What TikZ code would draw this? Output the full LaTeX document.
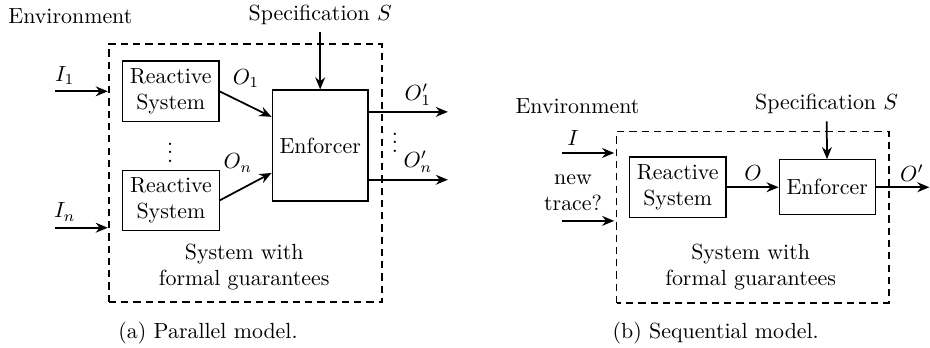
\documentclass[tikz,border=0pt]{standalone}
\usetikzlibrary{arrows.meta,calc}
\begin{document}
\begin{tikzpicture}[
    box/.style={draw,semithick,align=center},
    frame/.style={draw,semithick,dash pattern=on 3.3pt off 2.3pt},
    dots/.style={inner sep=0pt},
    flow/.style={->,thick},
    >={Stealth[length=5.5pt,width=4.5pt]}
  ]
  \useasboundingbox (0,0) rectangle (14.93,5.586);
  % (a) parallel model
  \draw[frame] (1.75,0.74) rectangle (6.13,4.88);
  \node (env1) at (1.13,5.33) {Environment};
  \node (spec1) at (5.14,5.35) {Specification $S$};
  \node[box] (rs1) at (2.74,4.12) {Reactive\\System};
  \node[box] (rsn) at (2.745,2.37) {Reactive\\System};
  \node[dots] (dots1) at (2.73,3.24) {$\vdots$};
  \node[box,minimum height=1.78cm] (enf1) at (5.14,3.25) {Enforcer};
  \node[dots] (dots2) at (6.34,3.40) {$\vdots$};
  \node[align=center] (sys1) at (3.92,1.30) {System with\\formal guarantees};
  \node (cap1) at (3.34,0.24) {(a) Parallel model.};
  \coordinate (in1) at (0.88,4.12);
  \coordinate (in1e) at (1.73,4.12);
  \coordinate (inn) at (0.88,1.93);
  \coordinate (inne) at (1.73,1.93);
  \coordinate (out1) at (7.19,3.79);
  \coordinate (outn) at (7.19,2.70);
  \node (i1lab) at (1.04,4.37) {$I_1$};
  \node (inlab) at (1.04,2.18) {$I_n$};
  \node (o1lab) at (3.95,4.32) {$O_1$};
  \node (onlab) at (3.82,2.97) {$O_n$};
  \node (op1lab) at (6.71,4.06) {$O'_1$};
  \node (opnlab) at (6.71,2.99) {$O'_n$};
  \begin{scope}[flow]
    \draw (in1) to (in1e);
    \draw (inn) to (inne);
    \draw (spec1) to (enf1);
    \draw (rs1.east) to ($(enf1.west)+(0,0.46)$);
    \draw (rsn.east) to ($(enf1.west)+(0,-0.44)$);
    \draw (enf1.east |- out1) to (out1);
    \draw (enf1.east |- outn) to (outn);
  \end{scope}
  % (b) sequential model
  \draw[frame] (9.90,0.72) rectangle (14.27,3.47);
  \node (env2) at (9.27,3.88) {Environment};
  \node (spec2) at (13.27,3.92) {Specification $S$};
  \node[box] (rs2) at (10.88,2.58) {Reactive\\System};
  \node[box,minimum height=0.88cm] (enf2) at (13.28,2.58) {Enforcer};
  \node[align=center] (newtr) at (9.20,2.49) {new\\trace?};
  \node[align=center] (sys2) at (12.05,1.30) {System with\\formal guarantees};
  \node (cap2) at (11.49,0.24) {(b) Sequential model.};
  \coordinate (in2) at (9.02,3.13);
  \coordinate (in2e) at (9.86,3.13);
  \coordinate (tr2) at (9.02,2.04);
  \coordinate (tr2e) at (9.86,2.04);
  \coordinate (out2) at (14.92,2.58);
  \node (ilab) at (9.20,3.37) {$I$};
  \node (olab) at (12.09,2.81) {$O$};
  \node (oplab) at (14.64,2.81) {$O'$};
  \begin{scope}[flow]
    \draw (in2) to (in2e);
    \draw (tr2) to (tr2e);
    \draw (spec2) to (enf2);
    \draw (rs2) to (enf2);
    \draw (enf2) to (out2);
  \end{scope}
\end{tikzpicture}
\end{document}
